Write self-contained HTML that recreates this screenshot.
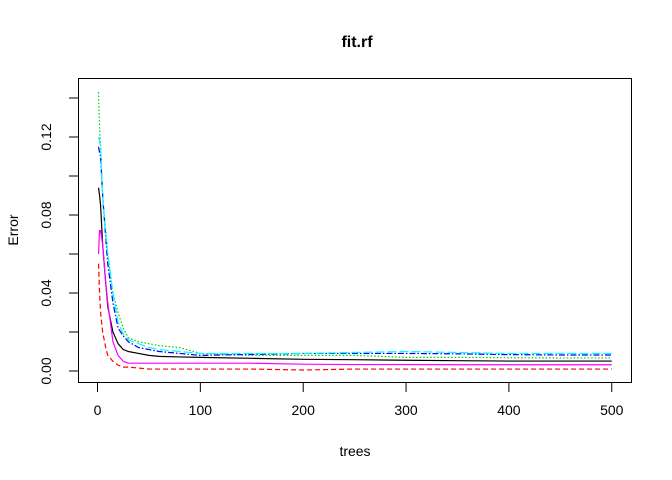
<!DOCTYPE html>
<html><head><meta charset="utf-8"><style>
body{margin:0;background:#fff}
svg{display:block;font-family:"Liberation Sans",Arial,sans-serif}
</style></head><body>
<svg id="chart" width="672" height="480">
<text x="357" y="47" text-anchor="middle" font-weight="bold" font-size="16">fit.rf</text>
<text x="355" y="456" text-anchor="middle" font-size="14">trees</text>
<text x="18" y="230" text-anchor="middle" font-size="14" transform="rotate(-90 18 230)">Error</text>
<rect x="78.5" y="78.5" width="553" height="304" fill="none" stroke="#000"/>
<g id="axes"></g>
<g id="series"></g>
</svg>
<script>
const trees=[1,2,3,5,8,10,15,20,25,30,40,50,60,80,100,150,200,250,300,350,400,450,500];
const oob=[0.094,0.090,0.085,0.065,0.045,0.033,0.020,0.014,0.011,0.010,0.009,0.008,0.0075,0.0072,0.007,0.0065,0.006,0.0058,0.0055,0.0053,0.0051,0.0051,0.0051];
const cls1=[0.055,0.040,0.030,0.020,0.012,0.008,0.005,0.003,0.002,0.002,0.0015,0.001,0.001,0.001,0.001,0.001,0.0005,0.001,0.001,0.001,0.001,0.001,0.001];
const cls2=[0.143,0.125,0.115,0.090,0.072,0.060,0.040,0.030,0.022,0.017,0.015,0.014,0.013,0.012,0.009,0.008,0.008,0.008,0.007,0.007,0.0068,0.0067,0.0067];
const cls3=[0.115,0.112,0.110,0.090,0.068,0.055,0.035,0.022,0.018,0.015,0.012,0.011,0.010,0.009,0.008,0.0085,0.009,0.009,0.009,0.0088,0.0084,0.0082,0.0082];
const cls4=[0.120,0.118,0.115,0.090,0.070,0.060,0.040,0.025,0.019,0.016,0.014,0.012,0.011,0.010,0.009,0.009,0.009,0.0095,0.010,0.0095,0.009,0.009,0.009];
const cls5=[0.060,0.072,0.072,0.065,0.045,0.035,0.015,0.008,0.005,0.004,0.004,0.004,0.004,0.004,0.004,0.004,0.0035,0.0033,0.0033,0.0032,0.0032,0.0032,0.0032];
const xTicks=[0,100,200,300,400,500];
const yTicks=[0,0.02,0.04,0.06,0.08,0.10,0.12,0.14];
const yLabels=["0.00","0.04","0.08","0.12"];
const X=t=>97.5+t*1.0285, Y=v=>371-v*1950;
const ns="http://www.w3.org/2000/svg";
const ax=document.getElementById('axes'), sg=document.getElementById('series');
function mk(tag,at,parent){const e=document.createElementNS(ns,tag);for(const k in at)e.setAttribute(k,at[k]);parent.appendChild(e);return e;}
let xl=mk('line',{x1:X(0),x2:X(500),y1:382.5,y2:382.5,stroke:'#000'},ax);


xTicks.forEach(t=>{
 const l=mk('line',{x1:X(t),x2:X(t),y1:382.5,y2:392,stroke:'#000'},ax);
 
 
 const tx=mk('text',{x:X(t),y:415,'text-anchor':'middle','font-size':14},ax);tx.textContent=t;
 
 
});
let yl=mk('line',{x1:78.5,x2:78.5,y1:Y(0),y2:Y(0.14),stroke:'#000'},ax);


yTicks.forEach(v=>{
 const l=mk('line',{x1:69,x2:78.5,y1:Y(v),y2:Y(v),stroke:'#000'},ax);
 
 
});
yLabels.forEach(s=>{
 const v=parseFloat(s);
 const tx=mk('text',{x:51,y:Y(v),'text-anchor':'middle','font-size':14,transform:`rotate(-90 51 ${Y(v)})`},ax);tx.textContent=s;
 
 
});
const series=[[oob,'#000','','oob-line'],[cls1,'#ff0000','5 3','class1-line'],[cls2,'#00cd00','1.5 2','class2-line'],[cls3,'#0000ff','6 2 1.5 2','class3-line'],[cls4,'#00ffff','9 3','class4-line'],[cls5,'#ff00ff','','class5-line']];
series.forEach(([d,c,da,n])=>{
 const p=mk('polyline',{points:d.map((v,i)=>X(trees[i])+','+Y(v)).join(' '),fill:'none',stroke:c,'stroke-width':1.2,'stroke-dasharray':da},sg);
 
 
});
</script>
</body></html>
